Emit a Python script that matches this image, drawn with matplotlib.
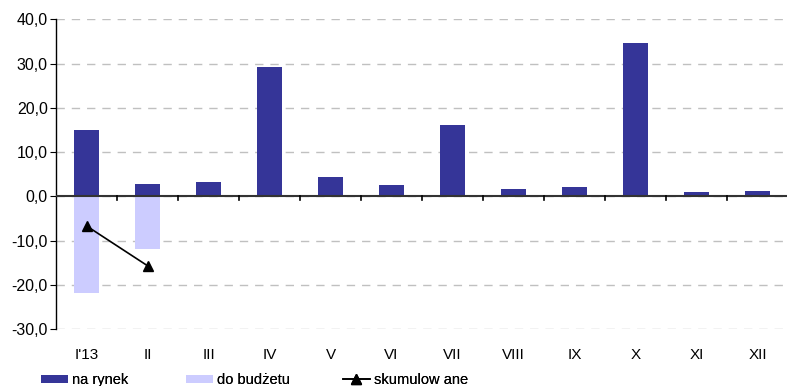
import numpy as np
import matplotlib.pyplot as plt
from matplotlib.lines import Line2D
from matplotlib.patches import Patch

plt.rcParams['font.family'] = ['Liberation Sans Narrow', 'Liberation Sans', 'DejaVu Sans']

# monthly data
months = ["I'13", "II", "III", "IV", "V", "VI", "VII", "VIII", "IX", "X", "XI", "XII"]
na_rynek = [15.0, 2.8, 3.3, 29.2, 4.4, 2.6, 16.2, 1.7, 2.1, 34.7, 1.0, 1.2]
do_budzetu = [-21.8, -12.0]
skumulowane = [-6.7, -15.7]

x = np.arange(len(months))

fig = plt.figure(figsize=(7.87, 3.86), dpi=100)
ax = fig.add_axes([56 / 787, 1 - 329 / 386, 732 / 787, (329 - 19.3) / 386])

ax.bar(x, na_rynek, width=0.41, color='#353598', zorder=3)
ax.bar(x[:len(do_budzetu)], do_budzetu, width=0.41, color='#ccccff', zorder=3)
ax.plot(x[:len(skumulowane)], skumulowane, color='black', lw=1.2,
        marker='^', markersize=7, zorder=4)

ax.set_xlim(-0.5, len(months) - 0.5)
ax.set_ylim(-30, 40)
ax.set_yticks(np.arange(-30, 41, 10))
ax.set_yticklabels([f'{v:.1f}'.replace('.', ',') for v in np.arange(-30, 41, 10)],
                   fontsize=11.5)
ax.yaxis.grid(True, color='#c0c0c0', ls=(0, (6, 5)), lw=1.0)
ax.set_axisbelow(True)

for s in ['top', 'right', 'bottom']:
    ax.spines[s].set_visible(False)
ax.spines['left'].set_color('black')
ax.spines['left'].set_linewidth(1.0)
ax.tick_params(axis='y', length=4, color='black', pad=2)

# zero line with category separators
ax.axhline(0, color='#333333', lw=1.5, zorder=5)
for b in np.arange(0.5, len(months) - 0.5, 1.0):
    ax.plot([b, b], [0, -0.9], color='black', lw=1.2, zorder=5, clip_on=False)

ax.set_xticks(x)
ax.set_xticklabels(months, fontsize=11)
ax.tick_params(axis='x', length=0, pad=14)
ax.xaxis.set_ticks_position('bottom')

# legend entries placed one by one along the bottom
entries = [
    (Patch(facecolor='#353598'), 'na rynek', 41),
    (Patch(facecolor='#ccccff'), 'do budżetu', 186),
    (Line2D([], [], color='black', marker='^', markersize=7, lw=1.2), 'skumulow ane', 343),
]
for handle, label, xpos in entries:
    leg = fig.legend([handle], [label], loc='center left',
                     bbox_to_anchor=(xpos / 787, 1 - 380 / 386),
                     frameon=False, fontsize=10.5, borderpad=0, borderaxespad=0,
                     handlelength=1.85, handleheight=0.5, handletextpad=0.25)
    fig.add_artist(leg)

fig.savefig('out.png', dpi=100)
